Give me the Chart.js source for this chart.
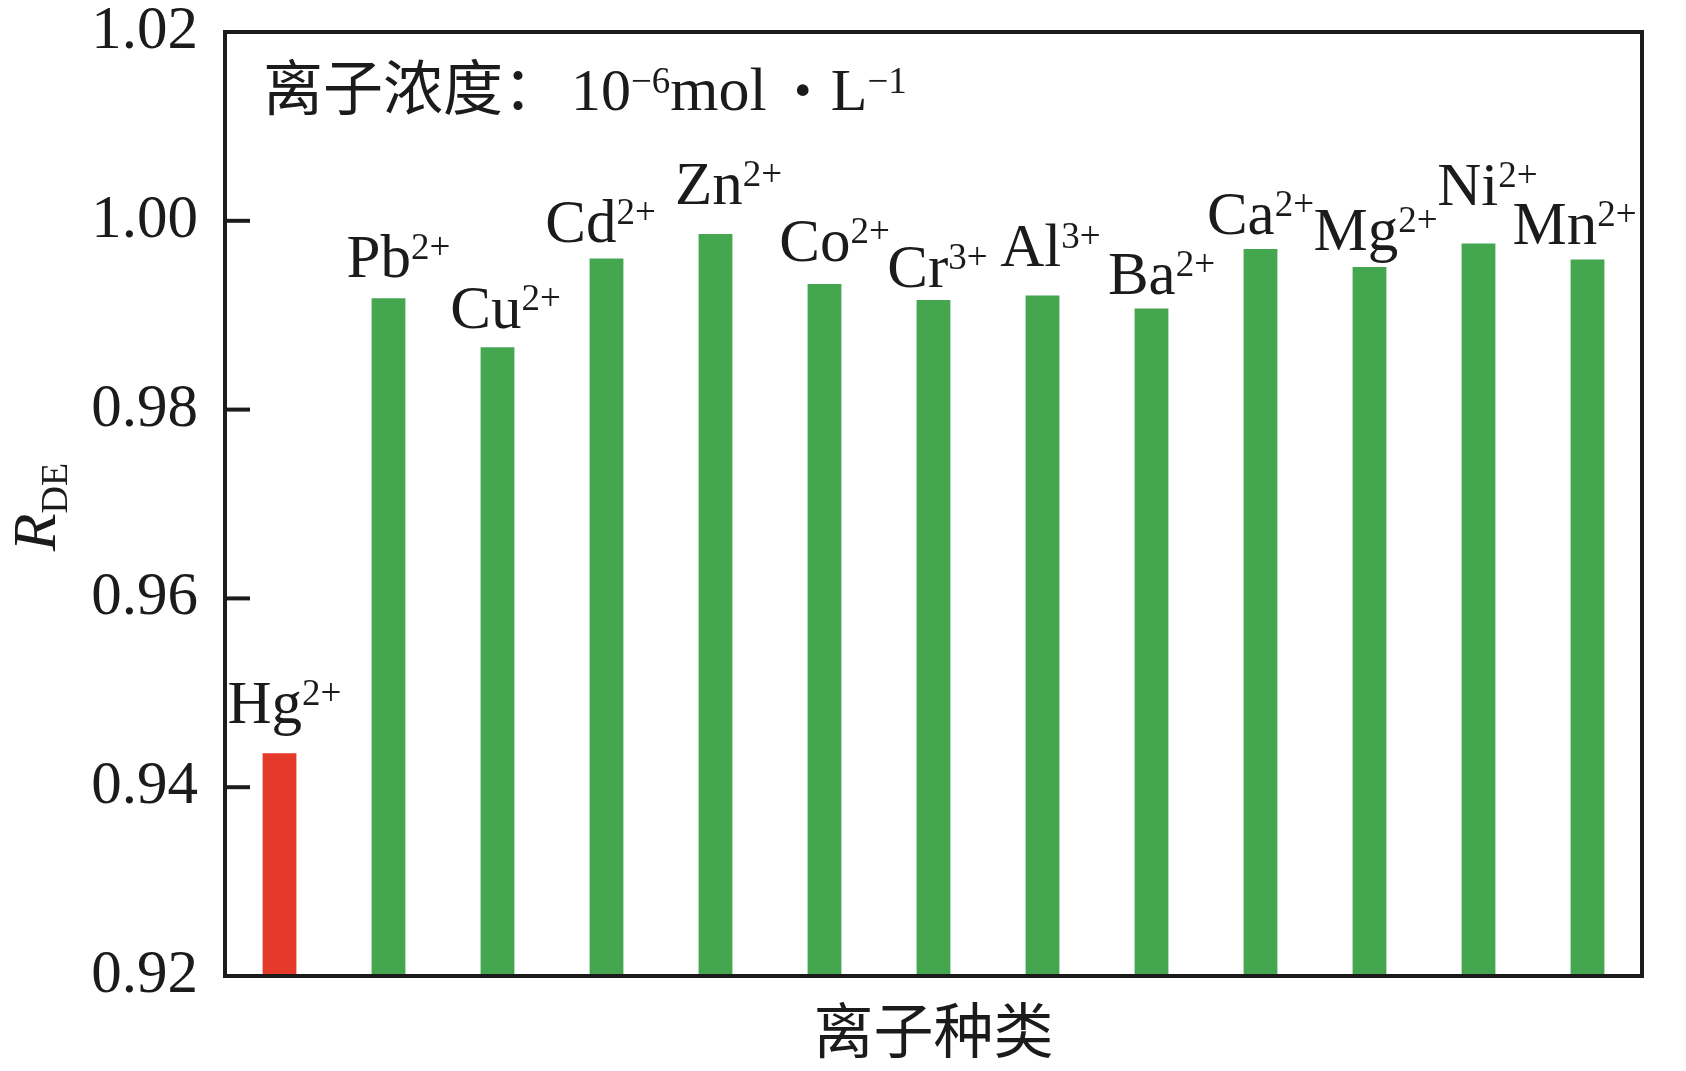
<!DOCTYPE html>
<html lang="zh">
<head>
<meta charset="UTF-8">
<title>R_DE 离子种类</title>
<script src="https://cdnjs.cloudflare.com/ajax/libs/Chart.js/4.4.1/chart.umd.min.js"></script>
<style>
  html, body { margin: 0; padding: 0; background: #fff; }
  canvas { display: block; }
</style>
</head>
<body>
<canvas id="rdeChart" width="1686" height="1071"></canvas>
<script>
// data
const ions = ['Hg', 'Pb', 'Cu', 'Cd', 'Zn', 'Co', 'Cr', 'Al', 'Ba', 'Ca', 'Mg', 'Ni', 'Mn'];
const charges = ['2+', '2+', '2+', '2+', '2+', '2+', '3+', '3+', '2+', '2+', '2+', '2+', '2+'];
const rde = [0.9436, 0.9918, 0.9866, 0.9960, 0.9986, 0.9933, 0.9916, 0.9921, 0.9907, 0.9970, 0.9951, 0.9976, 0.9959];
const yTicks = [0.92, 0.94, 0.96, 0.98, 1.00, 1.02];

const SERIF = '"Liberation Serif", "DejaVu Serif", serif';
const CJK = '"Noto Sans CJK SC", sans-serif';
const INK = '#1c1a1a';

// label nudges [dx, gap above bar top], in px
const labelNudge = [[5, 30], [10, 21], [8, 19], [-6, 17], [13, 30], [10, 23], [4, 13],
                    [8, 29], [10, 15], [0, 15], [6, 17], [9, 38], [-13, 16]];

function drawRich(ctx, parts, x, y) {
    parts.forEach(([t, font, rise]) => {
        ctx.font = font;
        ctx.fillText(t, x, y - rise);
        x += ctx.measureText(t).width;
    });
    return x;
}

function richWidth(ctx, parts) {
    let w = 0;
    parts.forEach(([t, font]) => { ctx.font = font; w += ctx.measureText(t).width; });
    return w;
}

const decor = {
    id: 'decor',
    afterDraw(chart) {
        const ctx = chart.ctx;
        const area = chart.chartArea;
        const yScale = chart.scales.y;
        const meta = chart.getDatasetMeta(0);
        ctx.save();
        ctx.fillStyle = INK;
        ctx.strokeStyle = INK;

        // frame
        ctx.lineWidth = 4;
        ctx.strokeRect(area.left, area.top, area.right - area.left, area.bottom - area.top);

        // inward ticks on the left axis
        yTicks.forEach(v => {
            const py = yScale.getPixelForValue(v);
            ctx.beginPath();
            ctx.moveTo(area.left, py);
            ctx.lineTo(area.left + 25, py);
            ctx.stroke();
        });

        // ion labels above bars
        ctx.textAlign = 'left';
        ctx.textBaseline = 'alphabetic';
        meta.data.forEach((bar, i) => {
            const parts = [[ions[i], '61px ' + SERIF, 0], [charges[i], '37px ' + SERIF, 18]];
            const w = richWidth(ctx, parts);
            const [dx, gap] = labelNudge[i];
            drawRich(ctx, parts, bar.x + dx - w / 2, bar.y - gap);
        });

        // concentration note
        let x = drawRich(ctx, [['离子浓度：', '60px ' + CJK, 0]], 263, 110);
        x = drawRich(ctx, [
            ['10', '60px ' + SERIF, 0],
            ['\u22126', '37px ' + SERIF, 17],
            ['mol', '62px ' + SERIF, 0]
        ], x + 8, 110);
        ctx.font = 'bold 72px ' + SERIF;
        ctx.textAlign = 'center';
        ctx.fillText('·', x + 36, 114);
        ctx.textAlign = 'left';
        drawRich(ctx, [['L', '60px ' + SERIF, 0], ['\u22121', '37px ' + SERIF, 17]], x + 64, 110);

        // x axis title
        ctx.font = '60px ' + CJK;
        ctx.textAlign = 'center';
        ctx.textBaseline = 'middle';
        ctx.fillText('离子种类', (area.left + area.right) / 2, 1030);

        // y axis title, rotated
        ctx.translate(55, 507);
        ctx.rotate(-Math.PI / 2);
        ctx.textAlign = 'left';
        ctx.textBaseline = 'alphabetic';
        const yParts = [['R', 'italic 62px ' + SERIF, 0], ['DE', '38px ' + SERIF, -12]];
        drawRich(ctx, yParts, -richWidth(ctx, yParts) / 2, 0);
        ctx.restore();
    }
};

new Chart(document.getElementById('rdeChart'), {
    type: 'bar',
    data: {
        labels: ions,
        datasets: [{
            data: rde,
            backgroundColor: ions.map((_, i) => i === 0 ? '#e5392c' : '#45a650'),
            borderWidth: 0,
            barPercentage: 0.31,
            categoryPercentage: 1.0
        }]
    },
    options: {
        responsive: false,
        animation: false,
        devicePixelRatio: 1,
        layout: { padding: { top: 32, right: 44, left: 0, bottom: 0 } },
        plugins: { legend: { display: false }, tooltip: { enabled: false } },
        scales: {
            x: {
                ticks: { display: false },
                grid: { display: false },
                border: { display: false },
                afterFit: s => { s.height = 95; s.paddingLeft = 0; s.paddingRight = 0; }
            },
            y: {
                min: 0.92,
                max: 1.02,
                afterBuildTicks: s => { s.ticks = yTicks.map(v => ({ value: v })); },
                ticks: {
                    font: { family: SERIF, size: 61 },
                    color: INK,
                    padding: 19,
                    callback: v => v.toFixed(2)
                },
                grid: { display: false },
                border: { display: false },
                afterFit: s => { s.width = 225; s.paddingTop = 0; s.paddingBottom = 0; }
            }
        }
    },
    plugins: [decor]
});
</script>
</body>
</html>
